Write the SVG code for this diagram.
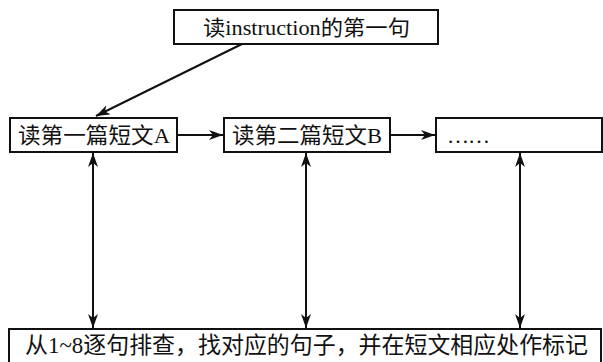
<svg xmlns="http://www.w3.org/2000/svg" width="603" height="362" viewBox="0 0 603 362">
<style>
.box{fill:#fff;stroke:#111;stroke-width:2}
.t{font-family:"Liberation Serif","Noto Sans CJK SC",serif;fill:#111}
.c{stroke:#111;stroke-width:2;fill:none}
</style>
<defs>
<marker id="ah" viewBox="0 0 14 10" refX="14" refY="5" markerWidth="14" markerHeight="10" orient="auto-start-reverse" markerUnits="userSpaceOnUse">
<path d="M0,0 L14,5 L0,10 L4,5 Z" fill="#111"/>
</marker>
</defs>
<rect width="603" height="362" fill="#fff"/>
<g id="connectors">
<line class="c" x1="242" y1="44" x2="96" y2="116" marker-end="url(#ah)"/>
<line class="c" x1="177" y1="135" x2="223" y2="135" marker-end="url(#ah)"/>
<line class="c" x1="390" y1="135" x2="435" y2="135" marker-end="url(#ah)"/>
<line class="c" x1="93" y1="153" x2="93" y2="328" marker-start="url(#ah)" marker-end="url(#ah)"/>
<line class="c" x1="306" y1="153" x2="306" y2="328" marker-start="url(#ah)" marker-end="url(#ah)"/>
<line class="c" x1="520" y1="153" x2="520" y2="328" marker-start="url(#ah)" marker-end="url(#ah)"/>
</g>
<g id="top">
<rect class="box" x="174" y="10" width="264" height="34"/>
<text class="t" x="203" y="35" font-size="21" textLength="207" lengthAdjust="spacingAndGlyphs">读instruction的第一句</text>
</g>
<g id="a">
<rect class="box" x="10" y="118" width="167" height="34"/>
<text class="t" x="18" y="143" font-size="22" textLength="152" lengthAdjust="spacingAndGlyphs">读第一篇短文A</text>
</g>
<g id="b">
<rect class="box" x="224" y="118" width="166" height="34"/>
<text class="t" x="232" y="143" font-size="22" textLength="150" lengthAdjust="spacingAndGlyphs">读第二篇短文B</text>
</g>
<g id="c">
<rect class="box" x="436" y="118" width="166" height="34"/>
<text class="t" x="447" y="143" font-size="22" textLength="43" lengthAdjust="spacing">……</text>
</g>
<g id="bottom">
<rect class="box" x="9" y="329" width="592" height="40"/>
<text class="t" x="25" y="353" font-size="23" textLength="563" lengthAdjust="spacingAndGlyphs">从1~8逐句排查，找对应的句子，并在短文相应处作标记</text>
</g>
</svg>
